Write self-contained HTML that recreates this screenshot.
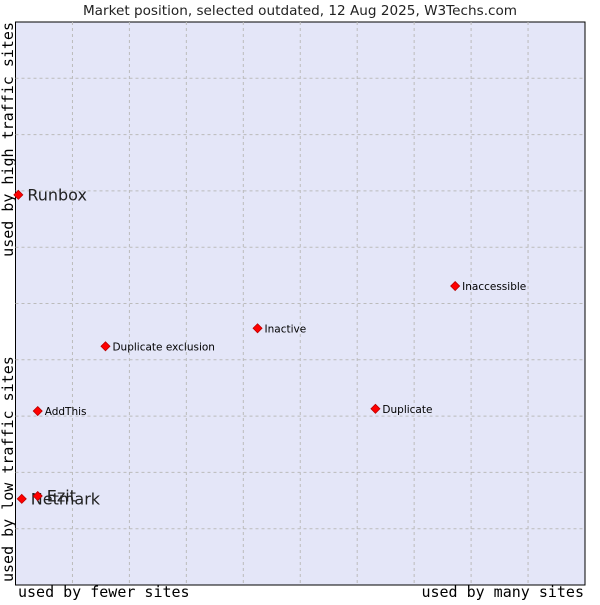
<!DOCTYPE html>
<html><head><meta charset="utf-8"><style>
body{margin:0;background:#fff;}
svg text{font-family:"DejaVu Sans","Liberation Sans",sans-serif;}
</style></head><body>
<svg width="600" height="600" viewBox="0 0 600 600">
<text x="300" y="15" text-anchor="middle" font-size="13.6" fill="#222">Market position, selected outdated, 12 Aug 2025, W3Techs.com</text>
<rect x="15.5" y="22" width="569.5" height="563" fill="#e4e6f8" stroke="#000" stroke-width="1"/>
<g id="grid"></g>
<g id="pts"></g>
<text x="18" y="597" font-size="15" fill="#000" style="font-family:'DejaVu Sans Mono',monospace">used by fewer sites</text>
<text x="584" y="597" text-anchor="end" font-size="15" fill="#000" style="font-family:'DejaVu Sans Mono',monospace">used by many sites</text>
<text transform="translate(13,22) rotate(-90)" text-anchor="end" font-size="15" fill="#000" style="font-family:'DejaVu Sans Mono',monospace">used by high traffic sites</text>
<text transform="translate(13,582) rotate(-90)" font-size="15" fill="#000" style="font-family:'DejaVu Sans Mono',monospace">used by low traffic sites</text>
</svg>
<script>
const names=["Runbox","Netmark","Ezit","AddThis","Duplicate exclusion","Inactive","Inaccessible","Duplicate"];
const xVals=[0.5,1.1,3.9,3.9,15.8,42.5,77.2,63.2];
const yVals=[69.3,15.3,15.8,30.9,42.4,45.6,53.1,31.3];
const bigLabel=[true,true,true,false,false,false,false,false];
const L=15.5,R=585,T=22,B=585;
const sx=v=>L+v/100*(R-L), sy=v=>B-v/100*(B-T);
const NS="http://www.w3.org/2000/svg";
const g=document.getElementById('grid');
for(let i=1;i<10;i++){
 const a=document.createElementNS(NS,'line');
 a.setAttribute('x1',sx(i*10));a.setAttribute('x2',sx(i*10));a.setAttribute('y1',T);a.setAttribute('y2',B);
 a.setAttribute('stroke','#bbb');a.setAttribute('stroke-dasharray','3,3');
 
 
 g.appendChild(a);
 const b=document.createElementNS(NS,'line');
 b.setAttribute('y1',sy(i*10));b.setAttribute('y2',sy(i*10));b.setAttribute('x1',L);b.setAttribute('x2',R);
 b.setAttribute('stroke','#bbb');b.setAttribute('stroke-dasharray','3,3');
 
 
 g.appendChild(b);
}
const p=document.getElementById('pts');
names.forEach((n,i)=>{
 const x=sx(xVals[i]),y=sy(yVals[i]);
 const d=document.createElementNS(NS,'polygon');
 d.setAttribute('points',`${x},${y-4.5} ${x+4.5},${y} ${x},${y+4.5} ${x-4.5},${y}`);
 d.setAttribute('fill','#f00');d.setAttribute('stroke','#b00');d.setAttribute('stroke-width','0.8');
 
 
 p.appendChild(d);
 const t=document.createElementNS(NS,'text');
 t.setAttribute('x',x+(bigLabel[i]?9:7));t.setAttribute('y',y+(bigLabel[i]?5.5:4));
 t.setAttribute('font-size',bigLabel[i]?'16':'10.5');t.setAttribute('fill',bigLabel[i]?'#222':'#000');
 t.textContent=n;
 
 
 p.appendChild(t);
});
</script>
</body></html>
